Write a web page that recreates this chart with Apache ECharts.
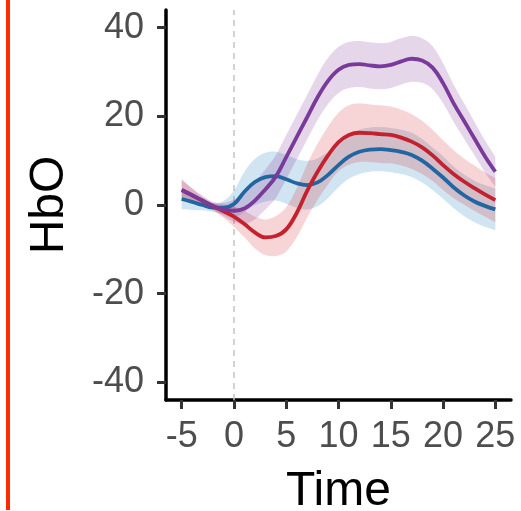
<!DOCTYPE html>
<html>
<head>
<meta charset="utf-8">
<script src="https://cdn.jsdelivr.net/npm/echarts@6/dist/echarts.min.js"></script>
<style>
html,body{margin:0;padding:0;background:#fff;}
#chart{width:521px;height:511px;}
</style>
</head>
<body>
<div id="chart"></div>
<script>
var timePoints = [-5,-4,-3,-2,-1,0,1,2,3,4,5,6,7,8,9,10,11,12,13,14,15,16,17,18,19,20,21,22,23,24,25];
var xTicks = [-5,0,5,10,15,20,25];
var yTicks = [-40,-20,0,20,40];

var purpleMean = [3.4,2.2,1.0,-0.2,-1.0,-1.3,-0.8,1.0,3.5,6.4,10.8,15.3,19.8,24.3,28.0,30.5,31.6,31.8,31.5,31.3,31.6,32.4,33.0,32.6,31.0,27.5,23.0,19.0,15.0,11.0,7.5];
var purpleHalf = [2.2,1.6,1.1,0.9,1.5,2.5,3.5,4.2,4.5,4.8,5.0,5.0,5.0,5.1,5.2,5.2,5.2,5.2,5.2,5.2,5.2,5.2,5.2,5.0,4.8,4.5,4.2,4.0,3.8,3.6,3.4];

var redMean = [3.4,2.2,0.9,-0.3,-1.4,-2.6,-4.3,-6.2,-7.3,-7.0,-5.5,-1.8,3.2,7.5,11.2,14.2,15.8,16.3,16.2,16.0,15.8,15.2,14.3,13.0,11.2,9.0,7.0,5.3,3.8,2.4,1.1];
var redHalf = [2.5,1.5,0.9,0.8,1.5,2.3,3.0,3.6,4.0,4.5,5.0,5.5,6.0,6.3,6.5,6.6,6.7,6.6,6.5,6.5,6.4,6.3,6.2,6.0,5.8,5.6,5.4,5.2,5.1,5.0,5.0];

var blueMean = [1.35,0.7,0.0,-0.6,-0.6,0.2,3.0,5.2,6.3,6.5,5.8,4.9,4.5,5.1,6.8,9.0,10.9,12.0,12.5,12.6,12.4,12.0,11.3,10.0,8.2,6.2,4.0,2.2,0.8,-0.2,-1.0];
var blueHalf = [2.3,1.8,1.2,1.0,1.5,3.0,4.5,5.2,5.5,5.5,5.5,5.5,5.5,5.4,5.2,5.0,5.0,5.0,5.0,5.0,5.0,5.0,5.0,4.9,4.8,4.8,4.7,4.7,4.7,4.7,4.7];

var groups = [
  {key:'blue', mean: blueMean, half: blueHalf, line:'#2166A0', fill:'#1B78B8'},
  {key:'red', mean: redMean, half: redHalf, line:'#C4212F', fill:'#D7262F'},
  {key:'purple', mean: purpleMean, half: purpleHalf, line:'#7A3A9A', fill:'#7B3294'}
];

var FONT = '"Liberation Sans", Arial, Helvetica, sans-serif';
var SMOOTH = 0.4;
var series = [];

function splinePath(pts, start) {
  var d = start ? 'M' + pts[0][0] + ' ' + pts[0][1] : 'L' + pts[0][0] + ' ' + pts[0][1];
  for (var i = 0; i < pts.length - 1; i++) {
    var p0 = pts[Math.max(i - 1, 0)], p1 = pts[i], p2 = pts[i + 1], p3 = pts[Math.min(i + 2, pts.length - 1)];
    var c1x = p1[0] + (p2[0] - p0[0]) / 6, c1y = p1[1] + (p2[1] - p0[1]) / 6;
    var c2x = p2[0] - (p3[0] - p1[0]) / 6, c2y = p2[1] - (p3[1] - p1[1]) / 6;
    d += ' C' + c1x + ' ' + c1y + ' ' + c2x + ' ' + c2y + ' ' + p2[0] + ' ' + p2[1];
  }
  return d;
}

groups.forEach(function(g){
  series.push({
    type:'custom', name:g.key+'-band', silent:true, z:2, clip:true,
    data:[[0, 0]],
    renderItem: function(params, api) {
      var upper = timePoints.map(function(t,i){ return api.coord([t, g.mean[i] + g.half[i]]); });
      var lower = timePoints.map(function(t,i){ return api.coord([t, g.mean[i] - g.half[i]]); }).reverse();
      var d = splinePath(upper, true) + ' ' + splinePath(lower, false) + ' Z';
      return {type:'path', shape:{pathData:d}, style:{fill:g.fill, opacity:0.2, stroke:null}};
    }
  });
});

groups.forEach(function(g, idx){
  var s = {
    type:'line', name:g.key, data: timePoints.map(function(t,i){ return [t, g.mean[i]]; }),
    smooth:SMOOTH, symbol:'none', lineStyle:{color:g.line, width:3.8}, z:5
  };
  if (idx === 0) {
    s.markLine = {
      silent:true, symbol:['none','none'], label:{show:false}, z:1,
      lineStyle:{color:'#C4C4C4', type:[6,5], width:1.5},
      data:[{xAxis:0}]
    };
  }
  series.push(s);
});

var chart = echarts.init(document.getElementById('chart'), null, {renderer:'canvas'});
chart.setOption({
  animation:false,
  backgroundColor:'#fff',
  grid:{left:166, right:10, top:10, bottom:111, containLabel:false, outerBoundsMode:'none'},
  xAxis:{
    type:'value', min:-6.5, max:26.5,
    axisLine:{show:true, onZero:false, lineStyle:{color:'#000', width:3.5}},
    axisTick:{show:true, length:9, customValues:xTicks, lineStyle:{color:'#333', width:3}},
    axisLabel:{customValues:xTicks, fontSize:36, color:'#4D4D4D', margin:19, fontFamily:FONT},
    splitLine:{show:false},
    name:'Time', nameLocation:'middle', nameGap:68,
    nameTextStyle:{fontSize:48, color:'#000', fontFamily:FONT}
  },
  yAxis:{
    type:'value', min:-44, max:44,
    axisLine:{show:true, onZero:false, lineStyle:{color:'#000', width:3.5}},
    axisTick:{show:true, length:9, customValues:yTicks, lineStyle:{color:'#333', width:3}},
    axisLabel:{customValues:yTicks, fontSize:36, color:'#4D4D4D', margin:22, fontFamily:FONT},
    splitLine:{show:false},
    name:'HbO', nameLocation:'middle', nameGap:92,
    nameTextStyle:{fontSize:48, color:'#000', fontFamily:FONT}
  },
  graphic:[{
    type:'line', shape:{x1:8, y1:0, x2:8, y2:510},
    style:{stroke:'#FF2A00', lineWidth:4}, z:10
  }],
  series: series
});
</script>
</body>
</html>
